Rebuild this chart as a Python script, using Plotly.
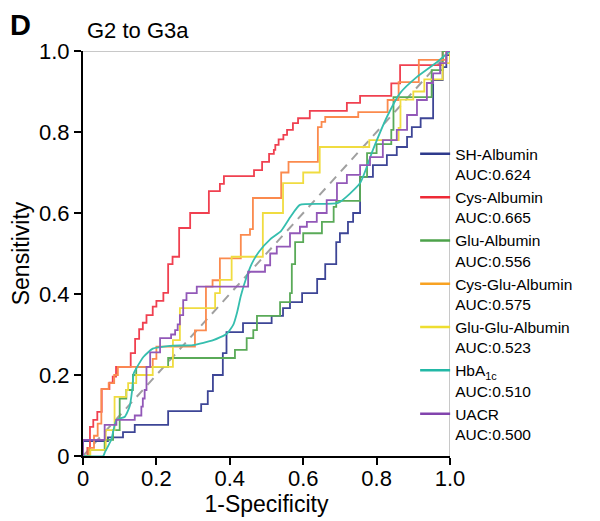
import plotly.graph_objects as go

# ---- data ----
SERIES_NAMES = ["SH-Albumin", "Cys-Albumin", "Glu-Albumin", "Cys-Glu-Albumin",
                "Glu-Glu-Albumin", "HbA<sub>1c</sub>", "UACR"]
AUC_LABELS = ["0.624", "0.665", "0.556", "0.575", "0.523", "0.510", "0.500"]

sh_x = [0, 0, 0.068, 0.109, 0.141, 0.232, 0.322, 0.34, 0.354, 0.381, 0.391, 0.436, 0.514,
        0.545, 0.564, 0.597, 0.638, 0.66, 0.69, 0.70, 0.722, 0.736, 0.755, 0.79, 0.828,
        0.855, 0.883, 0.896, 0.92, 0.954, 0.98, 0.99, 1.0]
sh_y = [0, 0.037, 0.046, 0.059, 0.077, 0.111, 0.128, 0.16, 0.20, 0.254, 0.306, 0.328, 0.346,
        0.365, 0.38, 0.402, 0.437, 0.474, 0.528, 0.55, 0.578, 0.60, 0.689, 0.718, 0.743,
        0.763, 0.788, 0.812, 0.834, 0.928, 0.96, 0.99, 1.0]

cys_x = [0, 0.012, 0.019, 0.028, 0.039, 0.051, 0.072, 0.081, 0.09, 0.13, 0.142, 0.153, 0.163,
         0.173, 0.19, 0.20, 0.219, 0.232, 0.244, 0.262, 0.292, 0.343, 0.373, 0.384, 0.466,
         0.488, 0.507, 0.52, 0.524, 0.533, 0.546, 0.556, 0.572, 0.586, 0.618, 0.719, 0.755,
         0.84, 0.864, 0.98, 1.0]
cys_y = [0, 0.02, 0.072, 0.089, 0.109, 0.165, 0.181, 0.196, 0.22, 0.254, 0.289, 0.313, 0.329,
         0.348, 0.369, 0.383, 0.403, 0.474, 0.492, 0.563, 0.60, 0.654, 0.672, 0.691, 0.706,
         0.726, 0.746, 0.756, 0.768, 0.782, 0.793, 0.805, 0.822, 0.834, 0.852, 0.872, 0.889,
         0.92, 0.965, 1.0, 1.0]

glu_x = [0, 0.015, 0.059, 0.082, 0.10, 0.118, 0.136, 0.145, 0.232, 0.414, 0.446, 0.464, 0.474,
         0.537, 0.564, 0.569, 0.578, 0.60, 0.651, 0.683, 0.69, 0.755, 0.774, 0.80, 0.84, 0.846,
         0.95, 0.98, 1.0]
glu_y = [0, 0.015, 0.04, 0.064, 0.142, 0.163, 0.20, 0.22, 0.242, 0.262, 0.291, 0.311, 0.346,
         0.38, 0.402, 0.474, 0.528, 0.55, 0.578, 0.615, 0.63, 0.689, 0.748, 0.77, 0.805, 0.886,
         0.953, 1.0, 1.0]

cg_x = [0, 0.015, 0.03, 0.04, 0.05, 0.07, 0.085, 0.095, 0.19, 0.20, 0.305, 0.335, 0.353, 0.373,
        0.43, 0.455, 0.463, 0.54, 0.56, 0.64, 0.65, 0.66, 0.75, 0.83, 0.86, 0.915, 0.99, 1.0]
cg_y = [0, 0.02, 0.05, 0.08, 0.165, 0.18, 0.20, 0.22, 0.24, 0.27, 0.31, 0.418, 0.434, 0.488,
        0.546, 0.56, 0.637, 0.70, 0.726, 0.812, 0.825, 0.837, 0.849, 0.879, 0.923, 0.978, 1.0, 1.0]

gg_x = [0, 0.02, 0.062, 0.086, 0.118, 0.123, 0.145, 0.19, 0.245, 0.264, 0.36, 0.373, 0.405,
        0.49, 0.545, 0.60, 0.645, 0.78, 0.86, 0.865, 0.90, 0.93, 0.98, 1.0]
gg_y = [0, 0.015, 0.064, 0.146, 0.163, 0.18, 0.20, 0.22, 0.286, 0.365, 0.402, 0.435, 0.492,
        0.60, 0.674, 0.70, 0.763, 0.78, 0.81, 0.88, 0.90, 0.93, 0.97, 1.0]

hba_x = [0, 0.055, 0.06, 0.077, 0.091, 0.114, 0.127, 0.134, 0.138, 0.145, 0.165, 0.19, 0.237,
         0.30, 0.355, 0.392, 0.41, 0.42, 0.43, 0.445, 0.46, 0.48, 0.51, 0.54,
         0.565, 0.591, 0.695, 0.755, 0.79, 0.828, 0.864, 0.91, 0.965, 1.0]
hba_y = [0, 0, 0.01, 0.04, 0.089, 0.097, 0.122, 0.163, 0.204, 0.216, 0.245, 0.265, 0.272,
         0.274, 0.286, 0.302, 0.325, 0.355, 0.395, 0.44, 0.475, 0.505, 0.535, 0.556,
         0.59, 0.62, 0.625, 0.674, 0.756, 0.837, 0.896, 0.936, 0.973, 1.0]

uacr_x = [0, 0, 0.059, 0.091, 0.141, 0.159, 0.163, 0.168, 0.173, 0.183, 0.21, 0.24, 0.251,
          0.258, 0.264, 0.273, 0.282, 0.31, 0.45, 0.496, 0.51, 0.528, 0.564, 0.591, 0.61,
          0.637, 0.664, 0.692, 0.719, 0.755, 0.782, 0.817, 0.855, 0.883, 0.91, 0.937, 0.954,
          0.973, 0.99, 1.0]
uacr_y = [0, 0.04, 0.077, 0.089, 0.10, 0.122, 0.142, 0.163, 0.22, 0.256, 0.291, 0.30, 0.311,
          0.325, 0.348, 0.385, 0.402, 0.418, 0.455, 0.471, 0.50, 0.517, 0.55, 0.566, 0.578,
          0.60, 0.632, 0.674, 0.694, 0.718, 0.738, 0.78, 0.805, 0.842, 0.879, 0.921, 0.945,
          0.97, 1.0, 1.0]

diag_x = [0, 1]
diag_y = [0, 1]

TICK_VALS = [0, 0.2, 0.4, 0.6, 0.8, 1.0]
TICK_TEXT = ["0", "0.2", "0.4", "0.6", "0.8", "1.0"]

LEGEND_COLORS = ["#2e3a8c", "#ee2a36", "#4ca24a", "#f8a222", "#eede30", "#22b8a6", "#8244ad"]
PLOT_COLORS = ["#3d4596", "#f04050", "#5aaa58", "#fb8a4e", "#f0dc40", "#35beae", "#9258b8"]

series = [(sh_x, sh_y), (cys_x, cys_y), (glu_x, glu_y), (cg_x, cg_y),
          (gg_x, gg_y), (hba_x, hba_y), (uacr_x, uacr_y)]

FONT = "Liberation Sans, Arial, sans-serif"

fig = go.Figure()

fig.add_trace(go.Scatter(x=diag_x, y=diag_y, mode="lines", showlegend=False,
                         line=dict(color="#a0a0a0", width=2, dash="9px,7px"),
                         hoverinfo="skip"))

for i, (xs, ys) in enumerate(series):
    shape = "spline" if i == 5 else "hv"
    fig.add_trace(go.Scatter(
        x=xs, y=ys, mode="lines", showlegend=False,
        line=dict(color=PLOT_COLORS[i], width=1.8, shape=shape,
                  smoothing=0.5 if i == 5 else None),
        cliponaxis=False,
    ))

# legend entries
for i in range(len(SERIES_NAMES)):
    fig.add_trace(go.Scatter(
        x=[None], y=[None], mode="lines",
        name=f"{SERIES_NAMES[i]}<br>AUC:{AUC_LABELS[i]}",
        line=dict(color=LEGEND_COLORS[i], width=2.5),
    ))

# light grey frame on top and right
fig.add_shape(type="line", xref="x", yref="y", x0=0, y0=1, x1=1, y1=1,
              line=dict(color="#c8c8c8", width=2), layer="below")
fig.add_shape(type="line", xref="x", yref="y", x0=1, y0=0, x1=1, y1=1,
              line=dict(color="#c8c8c8", width=2), layer="below")

# page body has an 8px margin: compensate so the plot area sits at x 83-450, y 51-456
fig.update_layout(
    width=600, height=521,
    margin=dict(l=75, r=158, t=43, b=73),
    paper_bgcolor="white", plot_bgcolor="white",
    font=dict(family=FONT, color="black"),
    showlegend=True,
    legend=dict(
        x=0.905, y=0.787, xanchor="left", yanchor="top",
        bgcolor="rgba(255,255,255,0)",
        font=dict(size=15.5, family=FONT, color="black"),
        tracegroupgap=0, itemwidth=30, valign="top",
    ),
    xaxis=dict(range=[0, 1], tickvals=TICK_VALS, ticktext=TICK_TEXT, automargin=False,
               showgrid=False, zeroline=False, showline=True, linecolor="black",
               linewidth=2, ticks="outside", ticklen=7, tickwidth=2, tickcolor="black",
               tickfont=dict(size=22, family=FONT), ticklabelstandoff=-5,
               title=dict(text="1-Specificity", font=dict(size=23, family=FONT), standoff=3)),
    yaxis=dict(range=[0, 1], tickvals=TICK_VALS, ticktext=TICK_TEXT, automargin=False,
               showgrid=False, zeroline=False, showline=True, linecolor="black",
               linewidth=2, ticks="outside", ticklen=7, tickwidth=2, tickcolor="black",
               tickfont=dict(size=22, family=FONT),
               title=dict(text="Sensitivity", font=dict(size=23, family=FONT), standoff=6)),
    annotations=[
        dict(text="<b>D</b>", xref="paper", yref="paper", x=-0.205, y=1.064,
             xanchor="left", yanchor="middle", showarrow=False,
             font=dict(size=29, family=FONT, color="black")),
        dict(text="G2 to G3a", xref="paper", yref="paper", x=0.005, y=1.05,
             xanchor="left", yanchor="middle", showarrow=False,
             font=dict(size=22, family=FONT, color="black")),
    ],
)

fig.write_html("out.html")
